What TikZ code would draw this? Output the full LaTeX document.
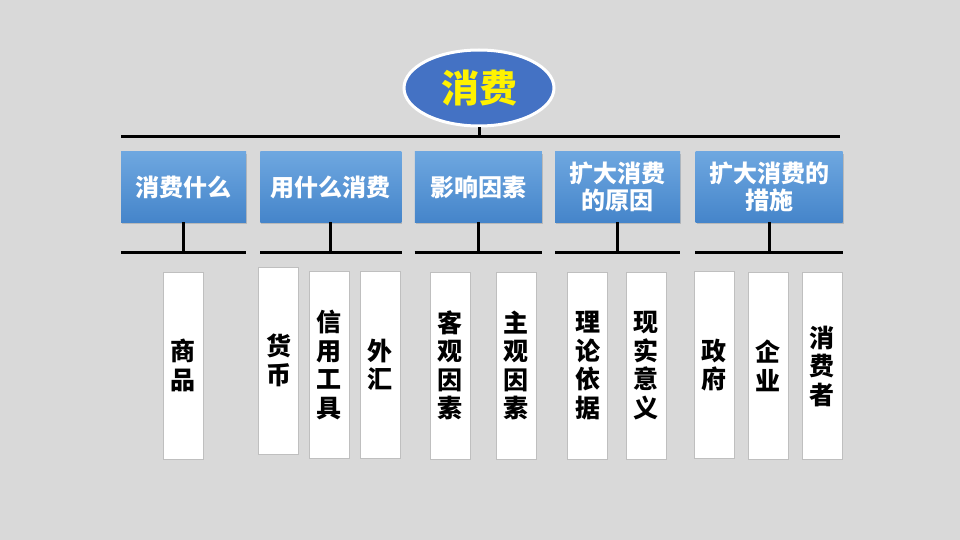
\documentclass[tikz,border=0pt]{standalone}
\usepackage{fontspec}
\newfontfamily\cjk{Noto Sans CJK SC}
\usetikzlibrary{positioning, shapes.geometric, shadows}

\definecolor{bgGray}{HTML}{D9D9D9}
\definecolor{topBlue}{HTML}{4472C4}
\definecolor{boxTop}{HTML}{6EA7E0}
\definecolor{boxBottom}{HTML}{4585CA}
\definecolor{leafEdge}{HTML}{BFBFBF}

\tikzset{
  topic/.style={ellipse, draw=white, line width=3pt, fill=topBlue, minimum width=150pt, minimum height=76pt, inner sep=0pt, text=yellow, font=\cjk\bfseries\fontsize{38}{44}\selectfont},
  branch/.style={rectangle, top color=boxTop, bottom color=boxBottom, minimum height=70pt, inner sep=0pt, text=white, align=center, font=\cjk\bfseries\fontsize{24}{27}\selectfont, drop shadow={shadow xshift=1pt, shadow yshift=-2pt, opacity=0.35}},
  leaf/.style={rectangle, draw=leafEdge, line width=1pt, fill=white, minimum width=40pt, minimum height=187pt, inner sep=0pt, align=center, font=\cjk\bfseries\fontsize{25}{28.5}\selectfont},
  bus/.style={line width=3pt}
}

\begin{document}
\begin{tikzpicture}[x=1pt, y=-1pt, node distance=14pt]
    \fill[bgGray] (0,0) rectangle (960,540);
    \useasboundingbox (0,0) rectangle (960,540);

    % top
    \node[topic] (xf) at (479,88) {消费};
    \coordinate (busL) at (121,137);
    \coordinate (busR) at (840,137);
    \draw[bus] (busL) -- (busR);
    \draw[bus] (xf.south) -- (xf.south |- busL);

    % second level
    \node[branch, minimum width=125pt] (b1) at (183.5,187) {消费什么};
    \node[branch, minimum width=141pt, right=of b1] (b2) {用什么消费};
    \node[branch, minimum width=127pt, right=13pt of b2] (b3) {影响因素};
    \node[branch, minimum width=125pt, right=13pt of b3] (b4) {扩大消费\\的原因};
    \node[branch, minimum width=147pt, right=15pt of b4] (b5) {扩大消费的\\措施};

    \coordinate (low) at (0,252);
    \foreach \b in {b1,b2,b3,b4,b5} {
        \draw[bus] (\b.south) -- (\b.south |- low);
        \draw[bus] (\b.west |- low) -- (\b.east |- low);
    }

    % leaves
    \node[leaf] (sp) at (183,365.5) {商\\品};
    \node[leaf] (hb) at (278.5,360.5) {货\\币};
    \node[leaf] (xy) at (329,365) {信\\用\\工\\具};
    \node[leaf] (wh) at (380,365) {外\\汇};
    \node[leaf] (kg) at (450,365.5) {客\\观\\因\\素};
    \node[leaf] (zg) at (516,365.5) {主\\观\\因\\素};
    \node[leaf] (ll) at (587.5,365.5) {理\\论\\依\\据};
    \node[leaf] (xs) at (646,365.5) {现\\实\\意\\义};
    \node[leaf] (zf) at (714,365) {政\\府};
    \node[leaf] (qy) at (768,366) {企\\业};
    \node[leaf] (xfz) at (822,366) {消\\费\\者};
\end{tikzpicture}
\end{document}
